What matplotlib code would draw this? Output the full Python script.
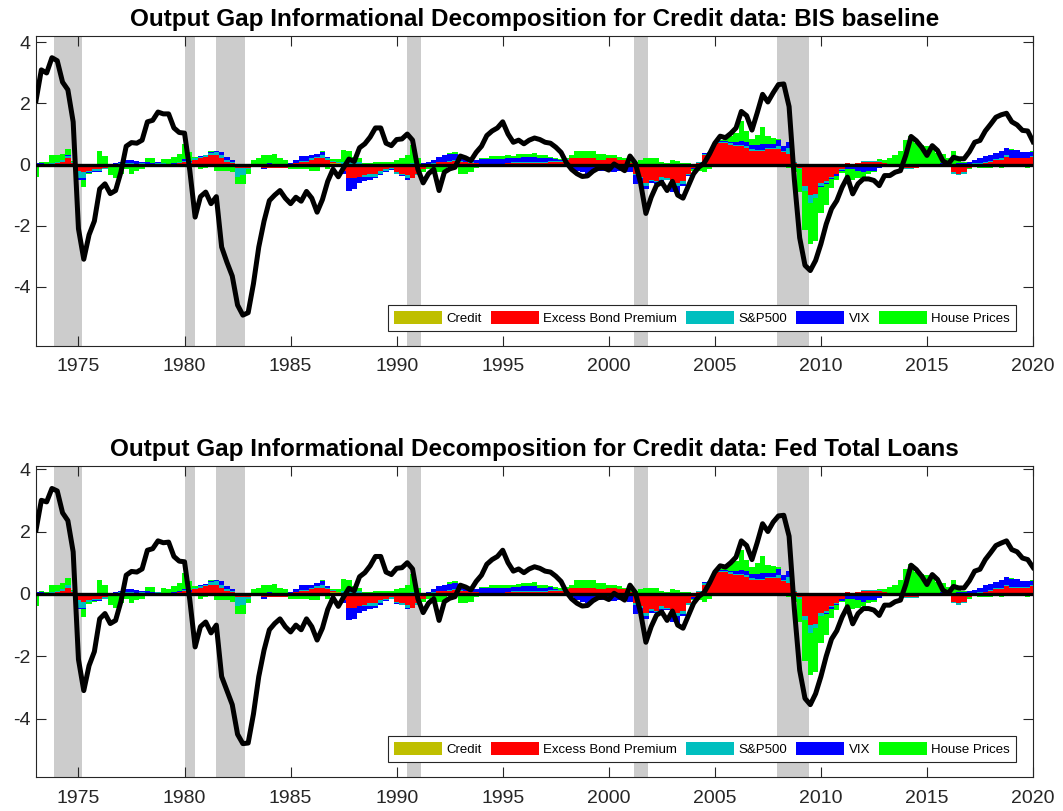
import numpy as np
import matplotlib.pyplot as plt
from matplotlib.patches import Patch

plt.rcParams['font.family'] = ['Liberation Sans', 'DejaVu Sans']
plt.rcParams['axes.unicode_minus'] = False

# ---------------- data (quarterly, 1973Q1 .. 2020Q1) ----------------
dates = 1973 + 0.25 * np.arange(189)

gap_bis = [
    2.1, 3.1, 3.0, 3.5,  3.4, 2.7, 2.45, 1.4,  -2.1, -3.1, -2.3, -1.85,
    -0.8, -0.63, -0.95, -0.85,  -0.25, 0.6, 0.72, 0.7,  0.8, 1.4, 1.45, 1.72,
    1.66, 1.66, 1.2, 1.05,  1.03, -0.2, -1.72, -1.05,  -0.9, -1.28, -1.05, -2.7,
    -3.2, -3.65, -4.6, -4.93,  -4.85, -3.9, -2.7, -1.85,  -1.18, -1.0, -0.85, -1.1,
    -1.28, -1.07, -1.2, -0.88,  -1.1, -1.56, -1.15, -0.55,  -0.15, -0.4, -0.1, 0.18,
    0.1, 0.55, 0.68, 0.9,  1.2, 1.2, 0.7, 0.62,  0.82, 0.84, 1.0, 0.8,
    -0.15, -0.6, -0.3, -0.15,  -0.85, -0.25, -0.14, -0.09,  0.28, 0.22, 0.13, 0.4,
    0.6, 0.95, 1.1, 1.2,  1.4, 1.0, 0.73, 0.8,  0.68, 0.8, 0.87, 0.82,
    0.73, 0.7, 0.57, 0.4,  0.06, -0.16, -0.3, -0.39,  -0.37, -0.22, -0.12, -0.1,
    -0.18, 0.02, -0.09, -0.2,  0.28, 0.05, -0.6, -1.6,  -1.07, -0.68, -0.58, -0.85,
    -0.55, -1.0, -1.1, -0.7,  -0.3, -0.08, 0.05, 0.35,  0.7, 0.93, 0.88, 1.02,
    1.2, 1.74, 1.6, 1.13,  1.7, 2.3, 2.05, 2.35,  2.62, 2.64, 1.9, -0.5,
    -2.4, -3.3, -3.47, -3.14,  -2.6, -1.95, -1.45, -1.18,  -0.74, -0.41, -0.96, -0.63,
    -0.47, -0.47, -0.52, -0.69,  -0.36, -0.36, -0.25, -0.2,  0.3, 0.92, 0.78, 0.57,
    0.3, 0.62, 0.46, 0.12,  0.02, 0.24, 0.19, 0.19,  0.42, 0.73, 0.79, 1.1,
    1.32, 1.55, 1.63, 1.68,  1.4, 1.3, 1.12, 1.1,  0.75]

gap_fed = [
    2.05, 3.0, 2.95, 3.38,  3.3, 2.6, 2.35, 1.35,  -2.1, -3.1, -2.3, -1.85,
    -0.8, -0.63, -0.95, -0.85,  -0.25, 0.6, 0.72, 0.7,  0.8, 1.4, 1.45, 1.7,
    1.64, 1.66, 1.2, 1.05,  1.03, -0.2, -1.7, -1.05,  -0.9, -1.25, -1.0, -2.65,
    -3.1, -3.55, -4.5, -4.8,  -4.78, -3.85, -2.65, -1.8,  -1.15, -0.95, -0.8, -1.05,
    -1.22, -1.0, -1.15, -0.8,  -1.05, -1.48, -1.1, -0.5,  -0.12, -0.4, -0.1, 0.18,
    0.1, 0.55, 0.68, 0.9,  1.2, 1.2, 0.7, 0.62,  0.82, 0.84, 1.0, 0.8,
    -0.15, -0.6, -0.3, -0.15,  -0.85, -0.25, -0.14, -0.09,  0.28, 0.22, 0.13, 0.4,
    0.6, 0.95, 1.1, 1.2,  1.4, 1.0, 0.73, 0.8,  0.68, 0.8, 0.87, 0.82,
    0.73, 0.7, 0.57, 0.4,  0.06, -0.16, -0.3, -0.39,  -0.37, -0.22, -0.12, -0.1,
    -0.18, 0.02, -0.09, -0.2,  0.28, 0.05, -0.6, -1.55,  -1.05, -0.68, -0.58, -0.85,
    -0.55, -1.0, -1.1, -0.7,  -0.3, -0.08, 0.05, 0.35,  0.7, 0.9, 0.86, 1.0,
    1.18, 1.7, 1.55, 1.1,  1.65, 2.25, 2.0, 2.3,  2.5, 2.52, 1.85, -0.5,
    -2.45, -3.35, -3.55, -3.2,  -2.65, -2.0, -1.45, -1.18,  -0.74, -0.41, -0.96, -0.63,
    -0.47, -0.47, -0.52, -0.69,  -0.36, -0.36, -0.25, -0.2,  0.3, 0.92, 0.78, 0.57,
    0.3, 0.62, 0.46, 0.12,  0.02, 0.24, 0.19, 0.19,  0.42, 0.73, 0.79, 1.1,
    1.32, 1.55, 1.63, 1.7,  1.42, 1.35, 1.15, 1.1,  0.85]

credit = [0.0] * 189
credit[36] = credit[37] = -0.05      # 1982
credit[56] = credit[57] = 0.05       # 1987
credit[58] = 0.03

ebp = [
    0, 0, 0, 0.03,  0.05, 0.1, 0.2, 0.05,  -0.2, -0.25, -0.2, -0.15,
    -0.15, -0.1, -0.05, 0,  0, 0, 0, 0,  0, 0, 0, 0.02,
    0.02, 0.02, 0.03, 0.05,  0.1, 0.05, 0.15, 0.2,  0.25, 0.3, 0.3, 0.2,
    0.1, 0.05, -0.1, -0.1,  -0.1, -0.05, -0.05, -0.1,  -0.1, -0.1, -0.1, -0.1,
    -0.05, 0.05, 0.1, 0.1,  0.15, 0.2, 0.2, 0.15,  0.05, -0.05, -0.2, -0.45,
    -0.45, -0.4, -0.35, -0.3,  -0.3, -0.2, -0.15, -0.1,  -0.25, -0.3, -0.35, -0.45,
    -0.3, -0.15, -0.05, 0.03,  0.1, 0.1, 0.1, 0.12,  0.1, 0.08, 0.05, 0.05,
    0.03, 0.03, 0.03, 0.03,  0.03, 0.05, 0.05, 0.05,  0.05, 0.05, 0.05, 0.05,
    0.05, 0.08, 0.1, 0.1,  0.15, 0.2, 0.2, 0.2,  0.2, 0.2, 0.15, 0.15,
    0.2, 0.2, 0.15, 0.15,  0.05, -0.3, -0.4, -0.6,  -0.5, -0.55, -0.4, -0.45,
    -0.65, -0.6, -0.55, -0.3,  -0.1, 0.05, 0.3, 0.35,  0.65, 0.7, 0.7, 0.65,
    0.6, 0.6, 0.55, 0.45,  0.45, 0.45, 0.5, 0.5,  0.5, 0.4, 0.35, 0.05,
    -0.1, -0.7, -1.0, -0.95,  -0.6, -0.55, -0.4, -0.3,  -0.15, 0.05, 0.03, 0.05,
    0.1, 0.1, 0.1, 0.1,  0.05, 0.03, 0, -0.05,  -0.1, -0.1, -0.1, -0.05,
    -0.05, -0.02, 0, 0,  0, -0.25, -0.3, -0.25,  -0.1, 0.02, 0.03, 0.05,
    0.1, 0.15, 0.15, 0.25,  0.2, 0.2, 0.2, 0.2,  0.25]

sp500 = [
    0, 0, 0, 0.02,  0.05, 0.05, 0.08, 0.03,  -0.25, -0.2, -0.05, -0.05,
    -0.05, -0.05, 0, 0,  0.05, 0.05, 0.05, 0.03,  0.05, 0.03, 0.03, 0.03,
    0.02, 0, 0, 0.02,  0.02, 0.02, 0.05, 0.05,  0.05, 0.07, 0.1, 0.1,
    0.05, 0.03, -0.3, -0.25,  -0.05, 0, 0, 0,  0, 0, 0, 0,
    0, 0, 0.02, 0.03,  0.05, 0.05, 0.1, 0.05,  0.02, 0.02, 0.05, 0.2,
    0.2, 0.1, -0.05, -0.1,  -0.1, -0.1, -0.05, -0.05,  -0.05, -0.05, -0.1, 0.05,
    -0.05, 0.02, 0.02, 0.03,  -0.05, -0.05, 0.03, 0.03,  0.02, 0.02, 0.02, 0,
    -0.05, -0.05, -0.05, -0.05,  -0.05, -0.05, 0.03, 0.03,  0.05, 0.05, 0.05, 0.05,
    0.05, 0.03, 0.02, 0.02,  0.02, 0, 0, 0,  0, 0, 0, 0,
    -0.02, -0.03, -0.05, -0.05,  -0.05, -0.05, -0.05, -0.1,  -0.05, -0.02, -0.1, -0.05,
    -0.1, -0.1, -0.1, -0.05,  0, 0.05, 0.05, 0.05,  0.05, 0.05, 0.05, 0.05,
    0.05, 0.05, 0.05, 0.05,  0.03, 0.03, 0.03, 0.03,  0.1, 0.05, 0.2, 0.03,
    -0.05, -0.15, -0.25, -0.15,  -0.1, -0.05, -0.03, -0.02,  -0.02, 0, 0, 0,
    0.02, 0.02, 0.02, 0.02,  0, 0, 0, 0,  -0.03, -0.03, -0.02, 0,
    0, 0, 0, 0.03,  0, -0.05, -0.05, -0.05,  0, 0.02, 0.02, 0.02,
    0.02, 0.03, 0.05, 0.05,  0.02, 0.02, 0.02, 0.02,  0.02]

vix = [
    0.05, 0.05, 0.02, 0,  0, 0, 0.02, 0,  -0.05, -0.05, -0.02, -0.03,
    -0.03, 0, 0, 0.05,  0.05, 0.1, 0.1, 0.08,  0.05, 0.05, 0.03, 0.02,
    0, 0, 0.02, 0.02,  0.05, 0.05, 0, 0.03,  0.02, 0.03, 0.05, 0.1,
    0.1, 0.08, 0, 0,  0, 0, 0, -0.05,  0.05, 0.03, 0, 0,
    0.05, 0.1, 0.15, 0.15,  0.1, 0.1, 0.1, 0.05,  0, 0, -0.1, -0.4,
    -0.35, -0.2, -0.15, -0.1,  -0.05, -0.05, -0.03, -0.02,  -0.02, -0.02, -0.05, 0,
    0, 0.02, 0.05, 0.1,  0.15, 0.2, 0.2, 0.2,  0.2, 0.15, 0.1, 0.1,
    0.15, 0.15, 0.15, 0.15,  0.15, 0.15, 0.15, 0.15,  0.15, 0.15, 0.15, 0.1,
    0.1, 0.1, 0.05, 0.02,  -0.05, -0.1, -0.2, -0.25,  -0.3, -0.25, -0.2, -0.2,
    -0.2, -0.2, -0.15, -0.1,  -0.2, -0.3, -0.15, -0.1,  -0.05, -0.05, -0.15, -0.02,
    -0.15, -0.25, -0.05, -0.02,  -0.05, -0.1, 0.02, 0.02,  0, 0.02, 0.03, 0.05,
    0.1, 0.12, 0.15, 0.15,  0.15, 0.2, 0.15, 0.15,  0.2, 0.15, 0.2, 0,
    0, 0, 0, 0,  -0.02, -0.03, -0.05, -0.05,  -0.05, -0.15, -0.15, -0.2,
    -0.25, -0.2, -0.2, -0.12,  -0.05, 0, 0, 0,  0, 0, 0, 0,
    0, 0.02, 0.02, 0.03,  0.03, 0.03, 0.05, 0.05,  0.1, 0.1, 0.15, 0.2,
    0.2, 0.2, 0.25, 0.25,  0.25, 0.25, 0.2, 0.2,  0.15]

house = [
    -0.4, 0.05, 0.05, 0.25,  0.2, 0.2, 0.2, 0.05,  0, -0.25, -0.05, -0.02,
    0.44, 0.27, -0.3, -0.45,  -0.3, -0.15, -0.3, -0.2,  -0.15, 0.15, 0.15, -0.05,
    0.15, 0.15, 0.2, 0.25,  0.5, 0.3, 0.05, -0.15,  -0.1, 0.05, -0.2, -0.2,
    -0.15, -0.2, -0.25, -0.3,  -0.15, 0.15, 0.2, 0.3,  0.25, 0.3, 0.2, 0.15,
    -0.1, -0.15, -0.15, -0.15,  -0.2, -0.2, 0.05, -0.15,  0.05, 0.1, 0.4, 0.25,
    0.05, 0.1, 0.05, 0.05,  0.1, 0.1, 0.1, 0.1,  0.15, 0.2, 0.3, 0.6,
    0.2, -0.1, -0.1, -0.1,  -0.2, -0.2, 0.05, 0.05,  -0.3, -0.3, -0.25, -0.1,
    0.05, 0.05, 0.1, 0.1,  0.1, 0.1, 0.05, 0.1,  0.1, 0.1, 0.12, 0.1,
    0.1, 0.05, 0.05, 0.05,  0.05, 0.1, 0.25, 0.25,  0.25, 0.25, 0.2, 0.2,
    0.1, 0.1, 0.1, 0.05,  0.05, 0.1, 0.15, 0.2,  0.2, 0.2, 0.1, 0.05,
    0.15, 0.12, 0.05, 0.05,  -0.05, -0.1, -0.25, -0.15,  -0.05, 0.02, 0.05, 0.2,
    0.3, 0.65, 0.35, 0.2,  0.35, 0.55, 0.25, 0.2,  0.05, 0, -0.1, -0.25,
    -0.75, -1.3, -1.35, -1.4,  -0.85, -0.7, -0.3, -0.15,  -0.05, -0.25, -0.35, -0.25,
    -0.15, -0.1, -0.05, 0.05,  0.1, 0.2, 0.3, 0.45,  0.8, 0.95, 0.7, 0.65,
    0.6, 0.5, 0.35, 0.3,  0.2, 0.4, 0.1, 0.05,  -0.05, -0.05, -0.1, -0.1,
    -0.1, -0.05, -0.1, -0.05,  0.03, -0.05, -0.05, -0.1,  0.03]

labels = ['Credit', 'Excess Bond Premium', 'S&P500', 'VIX', 'House Prices']
colors = ['#bfbf00', '#ff0000', '#00bfbf', '#0000ff', '#00ff00']

recessions = [(1973.85, 1975.17), (1980.03, 1980.5), (1981.5, 1982.83),
              (1990.51, 1991.16), (2001.18, 2001.84), (2007.94, 2009.42)]

titles = ['Output Gap Informational Decomposition for Credit data: BIS baseline',
          'Output Gap Informational Decomposition for Credit data: Fed Total Loans']

# ---------------- figure ----------------
fig = plt.figure(figsize=(10.63, 8.11), dpi=100)
ax1 = fig.add_axes([0.0339, 0.5734, 0.9379, 0.3822])
ax2 = fig.add_axes([0.0339, 0.0419, 0.9379, 0.3835])


def draw(ax, title, gap, ylim):
    for a, b in recessions:
        ax.axvspan(a, b, color='#cccccc', lw=0, zorder=1)
    pb = np.zeros(len(dates))
    nb = np.zeros(len(dates))
    for vals, col in zip([credit, ebp, sp500, vix, house], colors):
        v = np.asarray(vals, float)
        pos = np.where(v > 0, v, 0)
        neg = np.where(v < 0, v, 0)
        ax.bar(dates, pos, 0.25, bottom=pb, color=col, lw=0, zorder=2)
        ax.bar(dates, neg, 0.25, bottom=nb, color=col, lw=0, zorder=2)
        pb += pos
        nb += neg
    ax.axhline(0, color='k', lw=2.4, zorder=3)
    ax.plot(dates, gap, color='k', lw=3.6, zorder=4)

    ax.set_xlim(1973, 2020)
    ax.set_ylim(*ylim)
    ax.set_xticks(np.arange(1975, 2021, 5))
    ax.set_yticks([-4, -2, 0, 2, 4])
    ax.tick_params(direction='in', top=True, right=True, length=7, width=0.8,
                   labelsize=14, color='#262626', labelcolor='#262626')
    ax.tick_params(axis='x', pad=9)
    ax.tick_params(axis='y', pad=4)
    for s in ax.spines.values():
        s.set_color('#262626')
        s.set_linewidth(0.8)
    ax.set_title(title, fontsize=17.5, fontweight='bold', pad=7)

    handles = [Patch(facecolor=c, edgecolor='none') for c in colors]
    leg = ax.legend(handles, labels, ncol=5, loc='lower right',
                    bbox_to_anchor=(0.983, 0.048), borderaxespad=0,
                    fontsize=9.5, handlelength=3.6, handleheight=1.1,
                    handletextpad=0.35, columnspacing=0.7, fancybox=False,
                    framealpha=1, edgecolor='#262626', borderpad=0.45)
    leg.get_frame().set_linewidth(0.8)
    leg.set_zorder(5)


draw(ax1, titles[0], gap_bis, (-5.94, 4.21))
draw(ax2, titles[1], gap_fed, (-5.87, 4.10))

fig.savefig('out.png', dpi=100)
